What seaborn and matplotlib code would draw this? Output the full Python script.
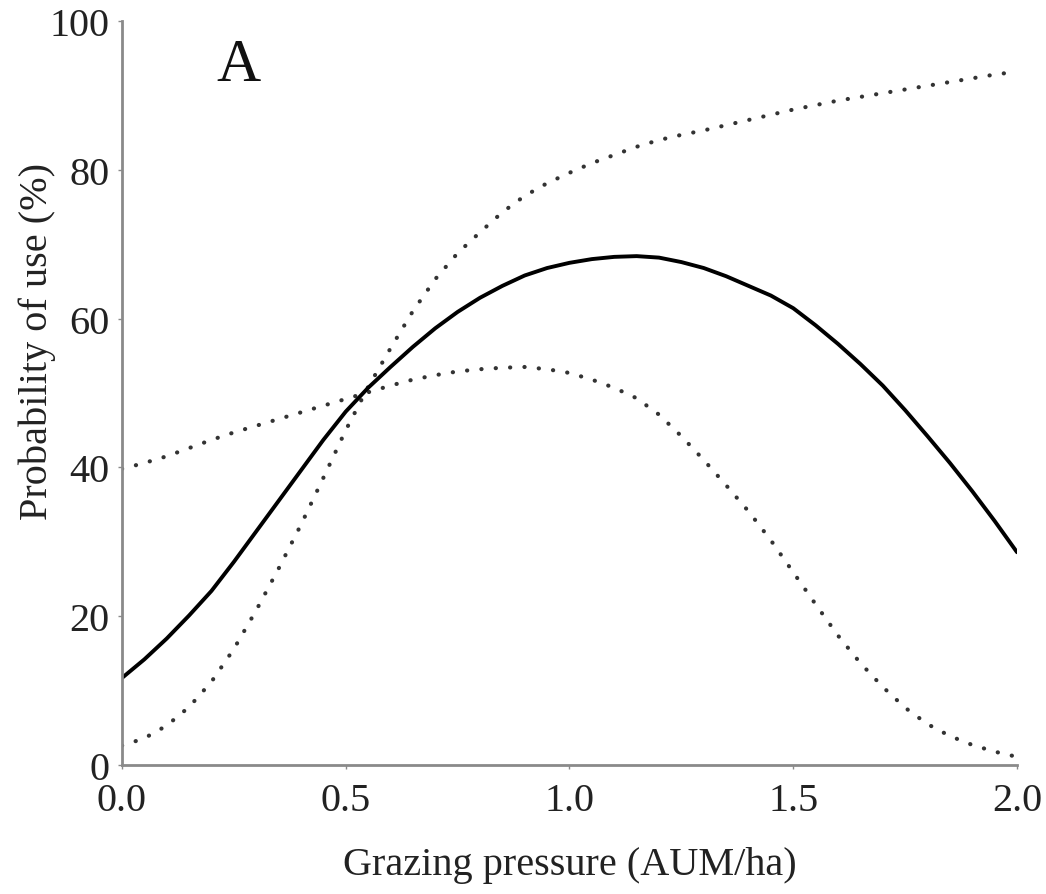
import numpy as np
import pandas as pd
import matplotlib.pyplot as plt
import seaborn as sns

# grazing pressure (AUM/ha)
pressure = [0.00, 0.05, 0.10, 0.15, 0.20, 0.25, 0.30, 0.35, 0.40, 0.45,
            0.50, 0.55, 0.60, 0.65, 0.70, 0.75, 0.80, 0.85, 0.90, 0.95,
            1.00, 1.05, 1.10, 1.15, 1.20, 1.25, 1.30, 1.35, 1.40, 1.45,
            1.50, 1.55, 1.60, 1.65, 1.70, 1.75, 1.80, 1.85, 1.90, 1.95,
            2.00]

# probability of use (%): fitted curve and the two dotted bounds
fitted = [11.7, 14.2, 17.0, 20.1, 23.4, 27.3, 31.4, 35.5, 39.6, 43.7,
          47.5, 50.7, 53.5, 56.2, 58.7, 60.9, 62.8, 64.4, 65.8, 66.8,
          67.5, 68.0, 68.3, 68.4, 68.2, 67.6, 66.8, 65.7, 64.4, 63.1,
          61.4, 59.1, 56.6, 53.9, 51.0, 47.7, 44.2, 40.6, 36.8, 32.8,
          28.6]
upper = [2.6, 3.6, 5.3, 7.8, 11.2, 15.6, 20.8, 26.4, 32.3, 38.6,
         45.0, 50.8, 56.0, 61.0, 65.3, 68.8, 71.6, 74.3, 76.5, 78.2,
         79.6, 80.9, 82.0, 83.1, 84.0, 84.7, 85.3, 86.0, 86.7, 87.4,
         88.1, 88.7, 89.3, 89.8, 90.3, 90.8, 91.3, 91.8, 92.3, 92.8,
         93.2]
lower = [39.8, 40.6, 41.5, 42.6, 43.7, 44.7, 45.6, 46.5, 47.4, 48.3,
         49.2, 50.1, 51.0, 51.8, 52.4, 52.9, 53.2, 53.4, 53.5, 53.2,
         52.7, 51.8, 50.7, 49.3, 47.1, 44.2, 41.0, 37.6, 34.1, 30.2,
         25.9, 21.6, 17.4, 13.7, 10.5, 7.7, 5.5, 3.9, 2.7, 1.8,
         1.1]

x_ticks = [0.0, 0.5, 1.0, 1.5, 2.0]
y_ticks = [0, 20, 40, 60, 80, 100]

df = pd.DataFrame({"pressure": pressure, "fitted": fitted,
                   "upper": upper, "lower": lower})

sns.set_theme(style="ticks")
plt.rcParams["font.family"] = ["Liberation Serif", "DejaVu Serif"]

SPINE = "#8a8a8a"
TEXT = "#222222"

fig = plt.figure(figsize=(10.46, 8.95), dpi=100)
ax = fig.add_axes([0.1166, 0.1441, 0.8557, 0.8313])

dot_style = dict(color="#333333", linewidth=3.0,
                 linestyle=(0, (0.05, 3.4)), dash_capstyle="round")
sns.lineplot(data=df, x="pressure", y="upper", ax=ax, **dot_style)
sns.lineplot(data=df, x="pressure", y="lower", ax=ax, **dot_style)
sns.lineplot(data=df, x="pressure", y="fitted", ax=ax, color="black", linewidth=2.8)

ax.set_xlim(0, 2.0)
ax.set_ylim(0, 100)
ax.set_xticks(x_ticks)
ax.set_xticklabels([f"{v:.1f}" for v in x_ticks])
ax.set_yticks(y_ticks)
ax.set_yticklabels([str(v) for v in y_ticks])

sns.despine(ax=ax)
for side in ["left", "bottom"]:
    ax.spines[side].set_color(SPINE)
    ax.spines[side].set_linewidth(2.0)

ax.tick_params(axis="both", which="major", length=3, width=1, color=SPINE,
               labelsize=29, labelcolor=TEXT)
ax.tick_params(axis="x", pad=9)
ax.tick_params(axis="y", pad=6)

ax.set_xlabel("Grazing pressure (AUM/ha)", fontsize=29, color=TEXT, labelpad=20)
ax.set_ylabel("Probability of use (%)", fontsize=29, color=TEXT)
ax.yaxis.set_label_coords(-0.074, 0.57)

ax.text(0.26, 94, "A", fontsize=44, ha="center", va="center", color="#111111")

fig.savefig("out.png", dpi=100)
plt.close(fig)
